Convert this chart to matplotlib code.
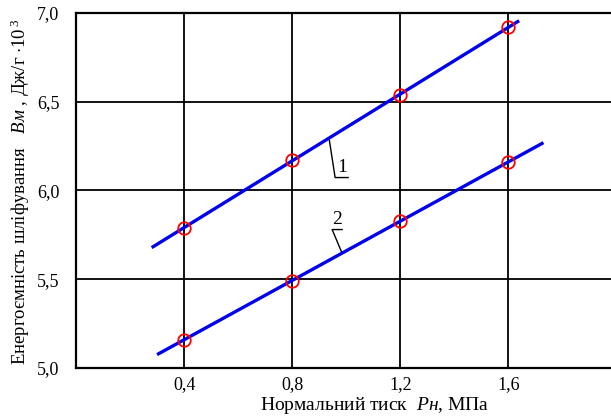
import numpy as np
import matplotlib.pyplot as plt

plt.rcParams['font.family'] = ['Liberation Serif', 'DejaVu Serif']
plt.rcParams['mathtext.fontset'] = 'custom'
plt.rcParams['mathtext.rm'] = 'Liberation Serif'
plt.rcParams['mathtext.it'] = 'Liberation Serif:italic'

# normal pressure, MPa
pressure = [0.4, 0.8, 1.2, 1.6]
# grinding energy intensity, J/g *10^3
energy_1 = [5.79, 6.17, 6.54, 6.92]
energy_2 = [5.16, 5.49, 5.83, 6.16]
# extent of the fitted lines along x
fit_range_1 = [0.28, 1.64]
fit_range_2 = [0.30, 1.73]

xticks = [0.4, 0.8, 1.2, 1.6]
xtick_labels = ['0,4', '0,8', '1,2', '1,6']
yticks = [5.0, 5.5, 6.0, 6.5, 7.0]
ytick_labels = ['5,0', '5,5', '6,0', '6,5', '7,0']

fig = plt.figure(figsize=(6.11, 4.17), dpi=100)
ax = fig.add_axes([76 / 611, 49 / 417, 1 - 76 / 611, 355 / 417])

for energy, rng_x in [(energy_1, fit_range_1), (energy_2, fit_range_2)]:
    k, b = np.polyfit(pressure, energy, 1)
    xs = np.array(rng_x)
    ax.plot(xs, k * xs + b, color='#0000ee', lw=2.4, zorder=3, solid_capstyle='butt')
    ax.plot(pressure, energy, 'o', mfc='none', mec='red', ms=9, mew=1.3, zorder=4)

ax.set_xlim(0, 1.98)
ax.set_ylim(5.0, 7.0)
ax.set_xticks(xticks)
ax.set_xticklabels(xtick_labels)
ax.set_yticks(yticks)
ax.set_yticklabels(ytick_labels)
ax.tick_params(axis='both', length=0, labelsize=13)
ax.tick_params(axis='x', pad=6)
ax.tick_params(axis='y', pad=12)
ax.grid(True, color='black', lw=1.3)
ax.set_axisbelow(True)
for side in ['left', 'top', 'bottom']:
    ax.spines[side].set_linewidth(1.6)
ax.spines['right'].set_visible(False)

# curve labels with leader lines
ax.plot([0.937, 0.959, 1.007], [6.29, 6.073, 6.073], color='black', lw=1)
ax.text(0.985, 6.08, '1', fontsize=14, ha='center', va='bottom')
ax.plot([0.985, 0.948, 0.985], [5.646, 5.78, 5.78], color='black', lw=1)
ax.text(0.967, 5.79, '2', fontsize=14, ha='center', va='bottom')

fig.text(375 / 611, 1 - 406 / 417, r'Нормальний тиск  $\mathit{Pн}$, МПа',
         fontsize=14, ha='center', va='center')
fig.text(20 / 611, 1 - 192 / 417,
         r'Енергоємність шліфування   $\mathit{Bм}$ , Дж/г $\cdot 10^{\,3}$',
         fontsize=13.5, rotation=90, ha='center', va='center')

fig.savefig('out.png', dpi=100)
